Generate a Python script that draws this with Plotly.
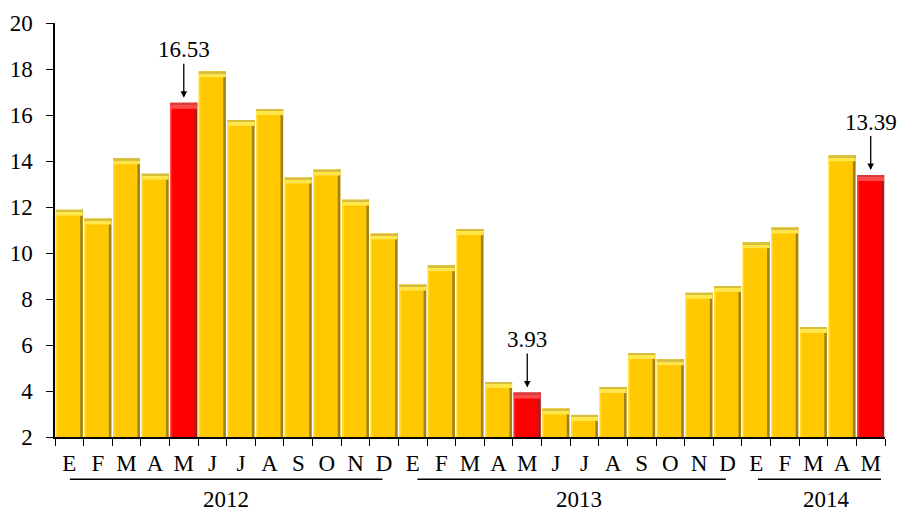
import plotly.graph_objects as go

# Monthly values, Jan 2012 - May 2014
months = ["E", "F", "M", "A", "M", "J", "J", "A", "S", "O", "N", "D",
          "E", "F", "M", "A", "M", "J", "J", "A", "S", "O", "N", "D",
          "E", "F", "M", "A", "M"]
periods = [f"{y}-{m:02d}" for y in (2012, 2013) for m in range(1, 13)] + \
          [f"2014-{m:02d}" for m in range(1, 6)]
values = [11.88, 11.50, 14.12, 13.45, 16.53, 17.90, 15.78, 16.26, 13.28, 13.63, 12.32, 10.85,
          8.63, 9.47, 11.04, 4.39, 3.93, 3.24, 2.96, 4.17, 5.65, 5.38, 8.27, 8.56,
          10.47, 11.11, 6.78, 14.25, 13.39]
highlight = {4: "16.53", 16: "3.93", 28: "13.39"}
years = ["2012", "2013", "2014"]

GOLD, GOLD_TOP, GOLD_EDGE = "#FFC800", "#FFE64A", "#8E7623"
RED, RED_TOP, RED_EDGE = "#FF0000", "#FF4A4A", "#8C2A2A"
BASE = 2.0

fill = [RED if i in highlight else GOLD for i in range(len(values))]
tops = [RED_TOP if i in highlight else GOLD_TOP for i in range(len(values))]
edges = [RED_EDGE if i in highlight else GOLD_EDGE for i in range(len(values))]
heights = [v - BASE for v in values]
cap = 0.26

fig = go.Figure()
# body of each bar
fig.add_trace(go.Bar(x=periods, y=heights, base=BASE, marker_color=fill,
                     marker_line_width=0, width=0.94, offset=-0.47,
                     hoverinfo="skip"))
# left light bevel
fig.add_trace(go.Bar(x=periods, y=heights, base=BASE, marker_color=tops,
                     marker_line_width=0, width=0.05, offset=-0.47, opacity=0.55,
                     hoverinfo="skip"))
# right shaded bevel
fig.add_trace(go.Bar(x=periods, y=heights, base=BASE, marker_color=edges,
                     marker_line_width=0, width=0.09, offset=0.38, opacity=0.85,
                     hoverinfo="skip"))
# top cap highlight
fig.add_trace(go.Bar(x=periods, y=[cap] * len(values), base=[v - cap for v in values],
                     marker_color=tops, marker_line_width=0, width=0.94, offset=-0.47,
                     hoverinfo="skip"))
fig.add_trace(go.Bar(x=periods, y=[0.08] * len(values), base=[v - 0.08 for v in values],
                     marker_color=edges, marker_line_width=0, width=0.94, offset=-0.47,
                     opacity=0.35, hoverinfo="skip"))

font = dict(family="Liberation Serif", size=23, color="black")

for i, txt in highlight.items():
    fig.add_annotation(x=periods[i], y=values[i], text=txt, showarrow=True,
                       ax=0, ay=-53, arrowhead=2, arrowsize=1, arrowwidth=1.3,
                       arrowcolor="black", standoff=5, font=font)

# year brackets under the month labels
spans = [(0.02, 10.94, 5.48), (12.16, 22.94, 17.8), (24.06, 28.36, 26.47)]
for (x0, x1, xc), yr in zip(spans, years):
    fig.add_shape(type="line", xref="x", yref="paper", x0=x0, x1=x1,
                  y0=-0.102, y1=-0.102, line=dict(color="black", width=1.5))
    fig.add_annotation(xref="x", yref="paper", x=xc, y=-0.152, text=yr,
                       showarrow=False, font=font, yanchor="middle")

fig.update_layout(
    width=898, height=511, barmode="overlay", showlegend=False,
    margin=dict(l=55, r=13, t=23, b=74),
    paper_bgcolor="white", plot_bgcolor="white", font=font,
    xaxis=dict(type="category", tickvals=periods, ticktext=months,
               tickson="boundaries", ticks="outside", ticklen=7, tickwidth=1.3,
               tickcolor="black", showline=True, linecolor="black", linewidth=1.5,
               showgrid=False, range=[-0.5, len(values) - 0.5], tickfont=font,
               tickangle=0, automargin=False, ticklabelstandoff=5),
    yaxis=dict(range=[2, 20], dtick=2, tick0=2, ticks="outside", ticklen=7,
               tickwidth=1.3, tickcolor="black", showline=True, linecolor="black",
               linewidth=1.5, showgrid=False, zeroline=False, tickfont=font,
               automargin=False, ticklabelstandoff=9),
)

fig.write_html("out.html")
